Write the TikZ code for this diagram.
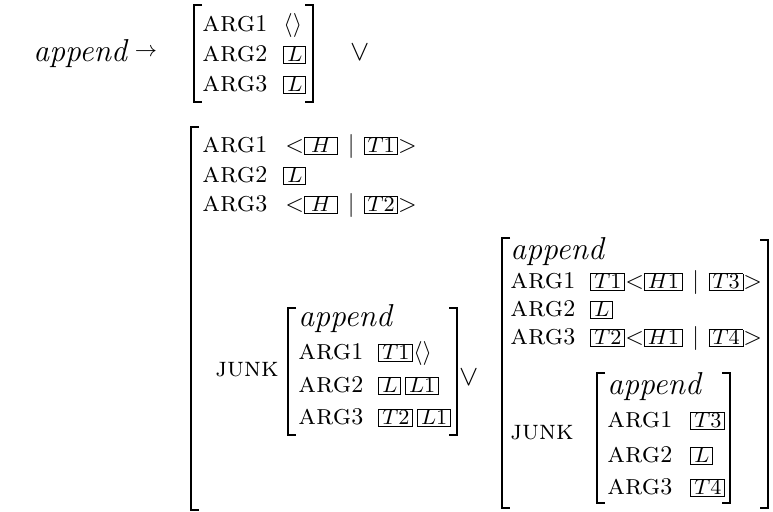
\documentclass[tikz,border=0pt]{standalone}
\usepackage{amsmath}
\usepackage{amssymb}
\usepackage{tikz}
\usetikzlibrary{calc}

\newcommand{\tagbox}[1]{{\setlength{\fboxsep}{0pt}\setlength{\fboxrule}{0.4pt}\fbox{\rule[-0.6pt]{0pt}{6.8pt}\hspace{1.2pt}\fontsize{9}{10}\selectfont$#1$\hspace{1.2pt}}}}
\newcommand{\widetag}[1]{\tagbox{\makebox[11pt]{$#1$}}}
\newcommand{\rel}{{\fontsize{13.2}{15}\selectfont\itshape append}}
\newcommand{\attr}[1]{{\fontsize{12}{14}\selectfont\textsc{#1}}}
\newcommand{\junk}{{\fontsize{11.5}{13}\selectfont\textsc{junk}}}
\newcommand{\lst}[2]{$<$#1\hspace{4pt}$|$\hspace{4pt}#2$>$}

\tikzset{
  brak/.style={line width=0.8pt},
  lbl/.style={anchor=base west, inner sep=0pt},
  disj/.style={inner sep=0pt, font=\fontsize{12}{14}\selectfont},
}

\begin{document}
\begin{tikzpicture}[x=0.4167pt,y=-0.4167pt]
            \useasboundingbox (0,0) rectangle (773,512);

            % left hand side
            \node[lbl] (head) at (33,62) {\rel};
            \node[inner sep=0pt] (arrow) at (146,52) {\small$\rightarrow$};

            % first disjunct
            \draw[brak] (202,5) -- (194,5) -- (194,102) -- (202,102);
            \draw[brak] (305,5) -- (313,5) -- (313,102) -- (305,102);
            \node[lbl] (a-arg1) at (202,32) {\attr{arg}1};
            \node[lbl] (a-val1) at (283,32) {$\langle\rangle$};
            \node[lbl] (a-arg2) at (202,62) {\attr{arg}2};
            \node[lbl] (a-val2) at (283,62) {\tagbox{L}};
            \node[lbl] (a-arg3) at (202,92) {\attr{arg}3};
            \node[lbl] (a-val3) at (283,92) {\tagbox{L}};
            \node[disj] (or1) at (360,53) {$\vee$};

            % second disjunct
            \draw[brak] (199,127) -- (191,127) -- (191,510) -- (199,510);
            \node[lbl] (b-arg1) at (202,153) {\attr{arg}1};
            \node[lbl] (b-val1) at (285,153) {\lst{\widetag{H}}{\widetag{T1}}};
            \node[lbl] (b-arg2) at (202,183) {\attr{arg}2};
            \node[lbl] (b-val2) at (283,183) {\tagbox{L}};
            \node[lbl] (b-arg3) at (202,212) {\attr{arg}3};
            \node[lbl] (b-val3) at (285,212) {\lst{\widetag{H}}{\widetag{T2}}};
            \node[lbl] (b-junk) at (215,377) {\junk};

            % junk: base case
            \draw[brak] (296,308) -- (288,308) -- (288,435) -- (296,435);
            \draw[brak] (449,308) -- (457,308) -- (457,435) -- (449,435);
            \node[lbl] (c-rel) at (298,327) {\rel};
            \node[lbl] (c-arg1) at (298,360) {\attr{arg}1};
            \node[lbl] (c-val1) at (378,360) {\tagbox{T1}$\langle\rangle$};
            \node[lbl] (c-arg2) at (298,393) {\attr{arg}2};
            \node[lbl] (c-val2) at (378,393) {\tagbox{L}\,\tagbox{L1}};
            \node[lbl] (c-arg3) at (298,425) {\attr{arg}3};
            \node[lbl] (c-val3) at (378,425) {\tagbox{T2}\,\tagbox{L1}};
            \node[disj] (or2) at (469,378) {$\vee$};

            % junk: recursive case
            \draw[brak] (510,238) -- (502,238) -- (502,508) -- (510,508);
            \draw[brak] (760,240) -- (768,240) -- (768,508) -- (760,508);
            \node[lbl] (d-rel) at (510,260) {\rel};
            \node[lbl] (d-arg1) at (510,289) {\attr{arg}1};
            \node[lbl] (d-val1) at (590,289) {\tagbox{T1}\lst{\tagbox{H1}}{\tagbox{T3}}};
            \node[lbl] (d-arg2) at (510,317) {\attr{arg}2};
            \node[lbl] (d-val2) at (590,317) {\tagbox{L}};
            \node[lbl] (d-arg3) at (510,345) {\attr{arg}3};
            \node[lbl] (d-val3) at (590,345) {\tagbox{T2}\lst{\tagbox{H1}}{\tagbox{T4}}};
            \node[lbl] (d-junk) at (510,440) {\junk};

            \draw[brak] (605,373) -- (597,373) -- (597,503) -- (605,503);
            \draw[brak] (722,373) -- (730,373) -- (730,503) -- (722,503);
            \node[lbl] (e-rel) at (607,395) {\rel};
            \node[lbl] (e-arg1) at (607,428) {\attr{arg}1};
            \node[lbl] (e-val1) at (690,428) {\tagbox{T3}};
            \node[lbl] (e-arg2) at (607,463) {\attr{arg}2};
            \node[lbl] (e-val2) at (690,463) {\tagbox{L}};
            \node[lbl] (e-arg3) at (607,495) {\attr{arg}3};
            \node[lbl] (e-val3) at (690,495) {\tagbox{T4}};
        \end{tikzpicture}
\end{document}
